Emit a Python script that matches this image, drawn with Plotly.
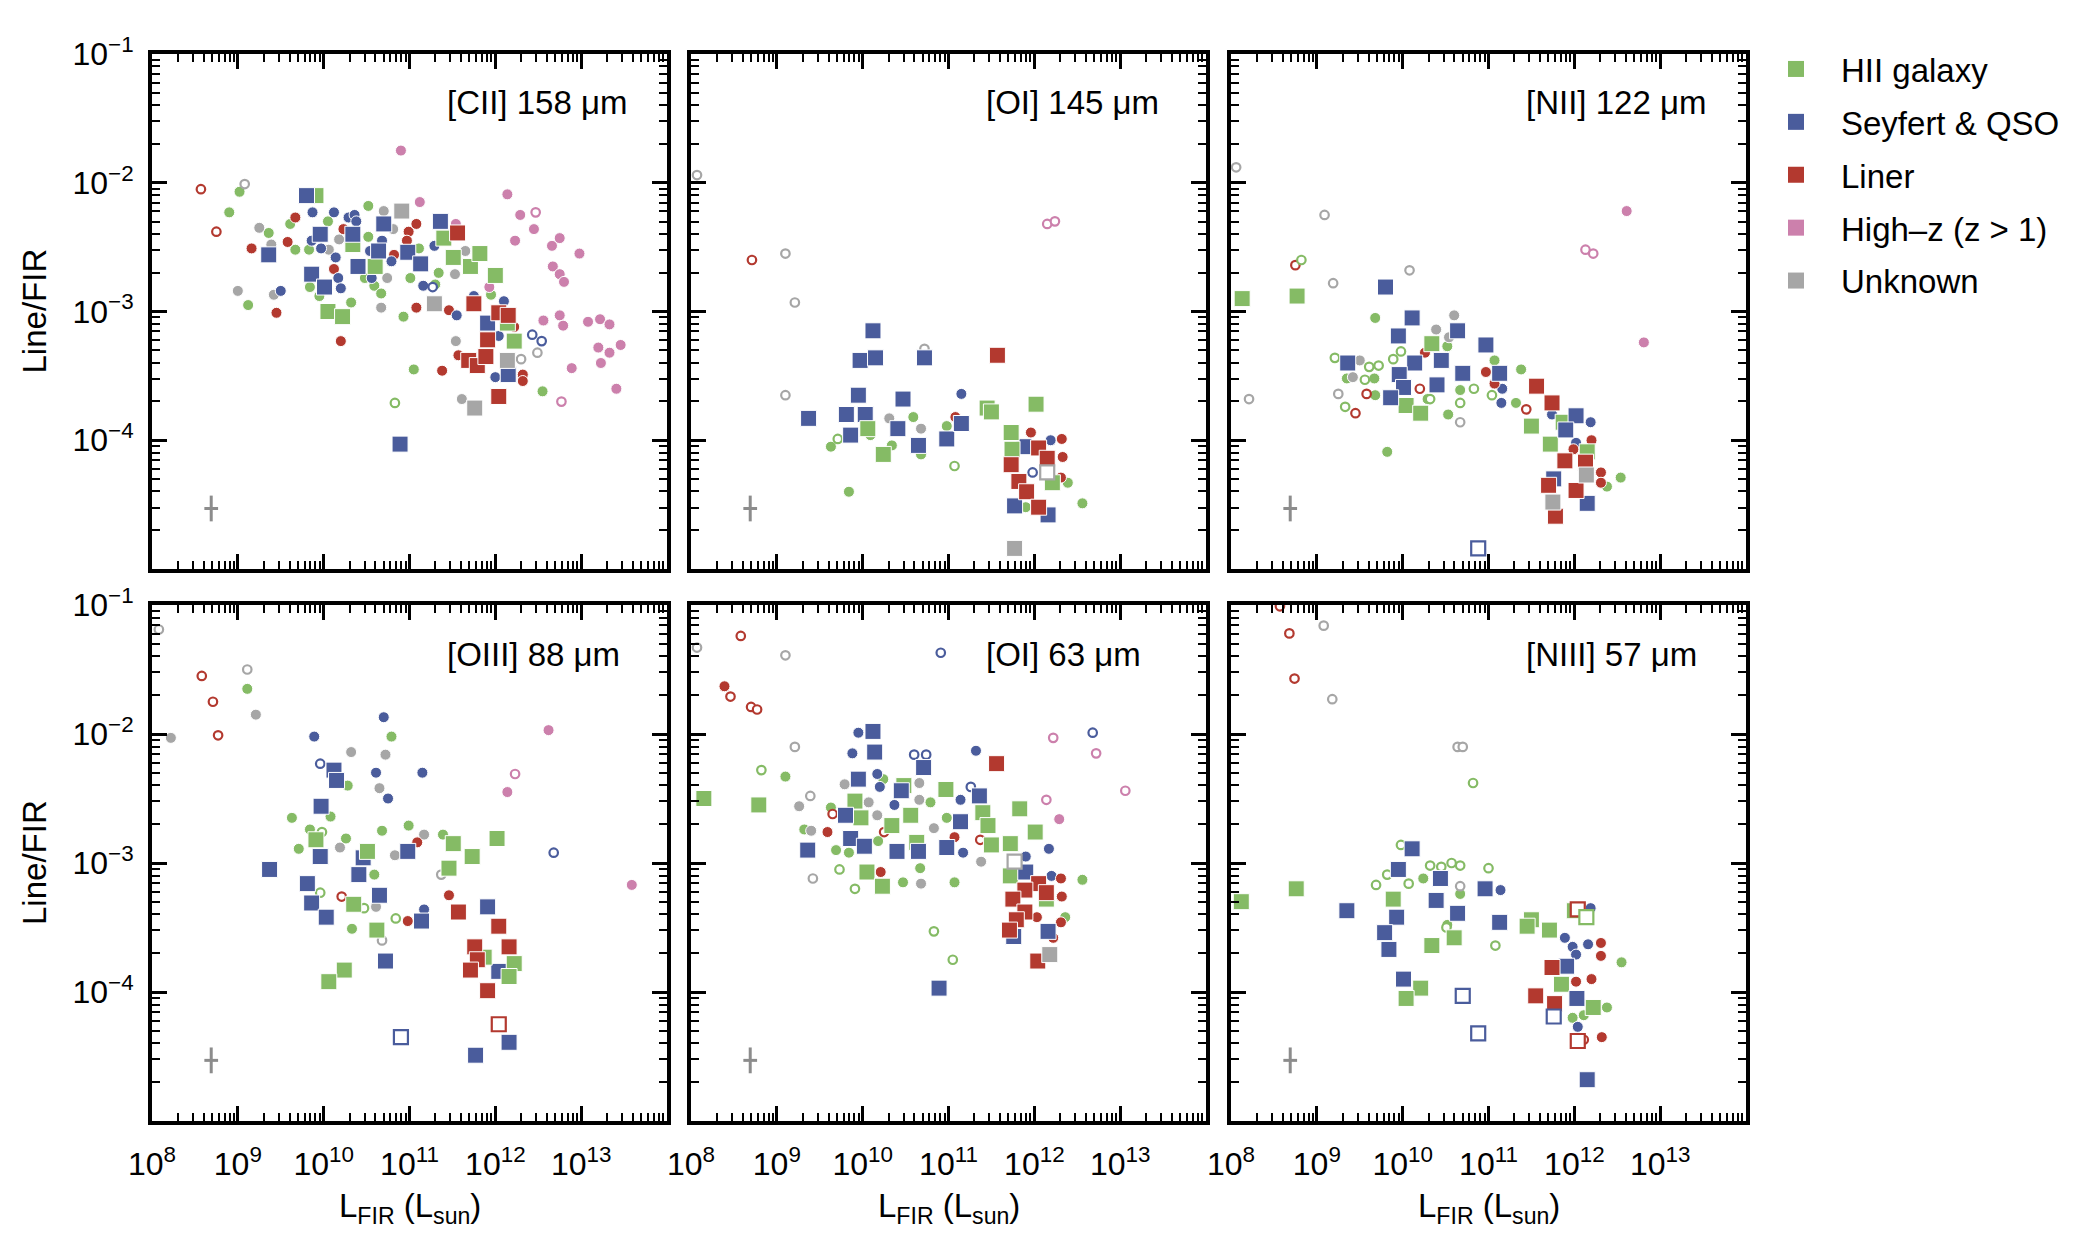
import plotly.graph_objects as go

# log10 L_FIR (L_sun) and log10 Line/FIR, grouped as (class, symbol, points)
# class: H = HII galaxy, S = Seyfert & QSO, L = Liner, Z = high-z, U = unknown
# symbol: o = filled circle, c = open circle, s = filled square, q = open square
CII_158 = [
    ("H", "o", [(9.02, -2.07), (8.90, -2.23), (9.36, -2.39), (9.12, -2.95), (9.61, -2.32), (9.67, -2.52),
                (9.83, -2.52), (10.05, -2.30), (9.84, -2.81), (9.95, -2.88), (10.32, -2.93), (10.52, -2.18),
                (10.52, -2.42), (10.48, -2.74), (10.59, -2.80), (10.67, -2.86), (11.01, -2.74), (11.11, -2.51),
                (10.93, -3.04), (11.30, -2.79), (11.34, -2.70), (11.95, -2.87), (11.05, -3.45), (12.55, -3.62)]),
    ("U", "o", [(9.25, -2.35), (9.00, -2.84), (9.42, -2.87), (9.39, -2.48), (10.06, -2.52), (10.18, -2.44),
                (10.70, -2.22), (10.81, -2.36), (10.74, -2.74), (10.67, -2.97), (11.65, -2.53), (11.53, -2.71),
                (11.54, -3.23), (11.61, -3.68)]),
    ("L", "o", [(9.16, -2.51), (9.45, -3.01), (9.58, -2.46), (9.67, -2.27), (10.12, -2.67), (10.20, -3.23),
                (10.23, -2.36), (10.82, -2.56), (10.99, -2.38), (11.08, -2.32), (10.97, -2.45), (11.08, -2.97),
                (11.46, -2.99), (12.22, -3.12), (11.57, -3.34), (12.32, -3.49), (12.32, -3.54), (11.38, -3.46)]),
    ("S", "o", [(9.50, -2.84), (9.87, -2.23), (10.12, -2.23), (9.86, -2.45), (9.97, -2.51), (10.17, -2.74),
                (10.20, -2.82), (10.14, -2.58), (10.29, -2.27), (10.36, -2.25), (10.38, -2.30), (10.54, -2.53),
                (10.68, -2.45), (10.56, -2.74), (10.79, -2.61), (11.16, -2.80), (11.29, -2.49), (11.55, -3.03),
                (11.75, -2.88), (12.10, -2.92), (12.04, -3.19), (12.00, -3.51)]),
    ("Z", "o", [(10.90, -1.75), (11.12, -2.15), (11.54, -2.32), (11.93, -2.81), (12.14, -2.09), (12.29, -2.25),
                (12.45, -2.36), (12.23, -2.45), (12.75, -2.43), (12.66, -2.49), (12.98, -2.55), (12.67, -2.65),
                (12.75, -2.71), (12.80, -2.77), (12.56, -3.07), (12.75, -3.03), (12.79, -3.11), (13.08, -3.08),
                (13.22, -3.06), (13.33, -3.10), (13.20, -3.28), (13.33, -3.32), (13.46, -3.26), (13.23, -3.40),
                (12.89, -3.44), (13.41, -3.60)]),
    ("L", "c", [(8.57, -2.05), (8.75, -2.38)]),
    ("U", "c", [(9.08, -2.01), (12.49, -3.32), (12.30, -3.37)]),
    ("S", "c", [(11.27, -2.81), (12.43, -3.18), (12.54, -3.23)]),
    ("H", "c", [(10.83, -3.71)]),
    ("Z", "c", [(12.77, -3.70), (12.47, -2.23)]),
    ("H", "s", [(9.91, -2.10), (10.05, -3.00), (10.22, -3.04), (10.34, -2.48), (10.60, -2.65), (11.40, -2.43),
                (11.51, -2.58), (11.71, -2.65), (11.82, -2.55), (12.00, -2.72), (12.14, -3.09), (12.22, -3.23)]),
    ("S", "s", [(9.36, -2.56), (9.80, -2.10), (9.96, -2.40), (9.86, -2.71), (10.01, -2.81), (10.34, -2.40),
                (10.40, -2.65), (10.70, -2.32), (10.64, -2.53), (10.98, -2.54), (11.13, -2.63), (11.36, -2.30),
                (11.91, -3.09), (12.15, -3.49), (10.89, -4.03)]),
    ("L", "s", [(11.56, -2.39), (11.75, -2.94), (12.04, -3.01), (12.15, -3.03), (11.91, -3.22), (11.69, -3.38),
                (11.79, -3.42), (11.89, -3.35), (12.04, -3.66)]),
    ("U", "s", [(10.91, -2.22), (11.29, -2.94), (12.14, -3.38), (11.76, -3.75)]),
]

OI_145 = [
    ("H", "o", [(9.63, -4.05), (10.59, -3.82), (10.34, -4.04), (10.09, -3.96), (9.84, -4.40), (10.98, -3.89),
                (10.68, -4.11), (12.39, -4.33), (12.56, -4.49), (11.90, -4.52)]),
    ("U", "o", [(10.68, -3.91), (10.31, -3.83)]),
    ("S", "o", [(11.15, -3.64), (12.19, -4.00)]),
    ("L", "o", [(11.08, -3.82), (11.96, -3.94), (12.32, -3.99), (12.33, -4.13), (12.31, -4.29)]),
    ("U", "c", [(8.07, -1.94), (9.10, -2.55), (9.21, -2.93), (9.10, -3.65), (10.72, -3.29)]),
    ("L", "c", [(8.71, -2.60)]),
    ("H", "c", [(9.71, -3.99), (11.07, -4.20)]),
    ("S", "c", [(11.98, -4.25)]),
    ("Z", "c", [(12.15, -2.32), (12.24, -2.30)]),
    ("S", "s", [(10.12, -3.15), (9.97, -3.38), (10.15, -3.36), (10.72, -3.36), (9.95, -3.65), (10.47, -3.68),
                (9.37, -3.83), (9.81, -3.80), (10.03, -3.80), (10.41, -3.91), (9.86, -3.96), (10.65, -4.04),
                (10.98, -3.99), (11.15, -3.87), (11.88, -4.05), (11.77, -4.51), (12.16, -4.58)]),
    ("H", "s", [(10.06, -3.91), (10.24, -4.11), (11.45, -3.75), (11.50, -3.78), (12.02, -3.72), (11.73, -3.94),
                (11.74, -4.07), (12.21, -4.33)]),
    ("L", "s", [(11.57, -3.34), (12.05, -4.06), (12.15, -4.14), (11.73, -4.19), (11.82, -4.32), (11.91, -4.40),
                (12.05, -4.52)]),
    ("U", "s", [(11.77, -4.84)]),
    ("U", "q", [(12.15, -4.25)]),
]

NII_122 = [
    ("H", "o", [(9.68, -3.05), (10.52, -3.27), (9.67, -3.52), (9.68, -3.65), (10.67, -3.61), (10.53, -3.80),
                (11.07, -3.38), (11.38, -3.45), (11.32, -3.71), (9.82, -4.09), (12.54, -4.29), (12.38, -4.36),
                (9.35, -3.52), (10.29, -3.68)]),
    ("U", "o", [(9.50, -3.38), (9.42, -3.51), (10.39, -3.14), (10.60, -3.03), (10.54, -3.20)]),
    ("S", "o", [(11.16, -3.60), (11.15, -3.71), (12.19, -3.86), (12.02, -4.02), (11.74, -3.80)]),
    ("L", "o", [(10.97, -3.47), (11.07, -3.56), (12.20, -4.00), (12.31, -4.25), (12.31, -4.33), (11.99, -4.07),
                (10.26, -3.32)]),
    ("Z", "o", [(12.61, -2.22), (12.81, -3.24)]),
    ("U", "c", [(8.06, -1.88), (9.09, -2.25), (9.19, -2.78), (10.08, -2.68), (8.21, -3.68), (9.25, -3.64),
                (10.67, -3.86)]),
    ("L", "c", [(8.75, -2.64), (9.58, -3.64), (9.45, -3.79), (10.20, -3.60), (11.44, -3.76)]),
    ("H", "c", [(8.82, -2.60), (9.21, -3.36), (9.61, -3.43), (9.72, -3.42), (9.56, -3.53), (9.33, -3.74),
                (9.89, -3.37), (9.98, -3.31), (10.32, -3.68), (10.67, -3.71), (10.83, -3.60), (11.04, -3.65)]),
    ("Z", "c", [(12.13, -2.52), (12.22, -2.55)]),
    ("H", "s", [(8.13, -2.90), (8.77, -2.88), (10.34, -3.25), (10.04, -3.73), (10.21, -3.79), (11.50, -3.89),
                (11.72, -4.03), (12.15, -4.09), (11.87, -3.86)]),
    ("S", "s", [(9.80, -2.81), (10.11, -3.05), (9.95, -3.19), (10.64, -3.15), (10.97, -3.26), (9.36, -3.40),
                (10.14, -3.40), (10.45, -3.38), (9.96, -3.49), (10.70, -3.48), (11.13, -3.48), (10.40, -3.57),
                (10.01, -3.59), (9.86, -3.67), (12.02, -3.81), (11.90, -3.92), (12.15, -4.49), (11.76, -4.30)]),
    ("L", "s", [(11.56, -3.58), (11.74, -3.71), (11.89, -4.16), (12.13, -4.17), (11.70, -4.35), (12.02, -4.39),
                (11.78, -4.59)]),
    ("U", "s", [(12.14, -4.27), (11.75, -4.48)]),
    ("S", "q", [(10.88, -4.84)]),
]

OIII_88 = [
    ("H", "o", [(9.11, -1.65), (10.79, -2.02), (9.63, -2.65), (9.71, -2.89), (9.84, -2.74), (10.26, -2.81),
                (10.08, -2.64), (10.28, -2.40), (10.68, -2.75), (10.99, -2.71), (11.39, -2.78), (10.33, -3.51),
                (10.59, -3.09)]),
    ("U", "o", [(9.21, -1.85), (8.22, -2.03), (10.32, -2.14), (10.72, -2.16), (10.65, -2.42), (10.19, -2.88),
                (10.83, -2.94), (11.17, -2.78), (10.61, -3.34)]),
    ("S", "o", [(10.70, -1.87), (9.89, -2.02), (10.61, -2.30), (11.15, -2.30), (10.75, -2.50), (11.17, -3.36)]),
    ("L", "o", [(11.09, -2.84), (11.46, -3.25), (10.98, -3.45)]),
    ("Z", "o", [(12.62, -1.97), (12.14, -2.45), (13.59, -3.17)]),
    ("U", "c", [(8.08, -1.19), (9.11, -1.50), (11.37, -3.09), (10.68, -3.60)]),
    ("L", "c", [(8.58, -1.55), (8.71, -1.75), (8.77, -2.01), (10.21, -3.26)]),
    ("S", "c", [(9.96, -2.23), (12.68, -2.92)]),
    ("H", "c", [(9.98, -2.76), (9.96, -3.23), (10.84, -3.43), (10.47, -3.35)]),
    ("Z", "c", [(12.23, -2.31)]),
    ("S", "s", [(10.12, -2.28), (10.15, -2.36), (9.97, -2.56), (9.37, -3.05), (9.96, -2.95), (10.46, -2.96),
                (10.41, -3.09), (9.81, -3.16), (9.86, -3.31), (10.03, -3.42), (10.65, -3.25), (10.98, -2.91),
                (11.14, -3.45), (11.91, -3.34), (10.72, -3.76), (12.04, -3.84), (12.16, -4.39), (11.77, -4.49)]),
    ("H", "s", [(9.91, -2.82), (10.51, -2.91), (10.35, -3.32), (10.62, -3.52), (11.51, -2.85), (11.73, -2.95),
                (12.02, -2.81), (11.46, -3.04), (10.24, -3.83), (10.06, -3.92), (12.22, -3.78), (12.16, -3.88),
                (11.87, -3.73)]),
    ("L", "s", [(11.57, -3.38), (12.04, -3.49), (12.16, -3.65), (11.76, -3.65), (11.79, -3.75), (11.71, -3.83),
                (11.91, -3.99)]),
    ("L", "q", [(12.04, -4.25)]),
    ("S", "q", [(10.90, -4.35)]),
]

OI_63 = [
    ("H", "o", [(9.10, -2.33), (9.69, -2.90), (9.84, -2.92), (10.18, -2.83), (10.47, -3.15), (10.67, -3.04),
                (11.07, -3.15), (10.98, -2.65), (10.79, -2.53), (10.24, -2.35), (12.56, -3.13), (9.63, -2.57),
                (9.32, -2.74), (12.36, -3.42)]),
    ("U", "o", [(9.79, -2.39), (9.26, -2.56), (9.40, -2.75), (10.07, -2.53), (10.17, -2.63), (10.66, -2.38),
                (10.66, -2.51), (10.83, -2.73), (11.38, -2.99), (10.68, -3.16)]),
    ("S", "o", [(9.95, -1.99), (9.88, -2.15), (10.17, -2.31), (10.20, -2.41), (10.37, -2.55), (11.14, -2.51),
                (11.32, -2.13), (11.17, -2.92), (11.90, -2.95), (12.17, -2.89), (12.20, -3.10)]),
    ("L", "o", [(8.39, -1.63), (9.59, -2.76), (10.21, -3.07), (12.31, -3.12), (12.31, -3.46), (12.03, -3.42),
                (11.07, -2.80), (12.32, -3.26), (12.22, -3.58)]),
    ("Z", "o", [(12.29, -2.66)]),
    ("U", "c", [(8.07, -1.33), (9.10, -1.39), (9.21, -2.10), (9.39, -2.48), (9.42, -3.12)]),
    ("L", "c", [(8.58, -1.24), (8.46, -1.71), (8.70, -1.79), (8.77, -1.81), (9.65, -2.62), (11.37, -2.82),
                (10.25, -2.76)]),
    ("H", "c", [(8.82, -2.28), (9.73, -3.05), (9.91, -3.20), (10.83, -3.53), (11.05, -3.75)]),
    ("S", "c", [(10.91, -1.37), (12.68, -1.99), (10.60, -2.16), (10.74, -2.16), (11.26, -2.41)]),
    ("Z", "c", [(12.22, -2.03), (12.72, -2.15), (13.06, -2.44), (12.14, -2.51)]),
    ("H", "s", [(8.15, -2.50), (8.79, -2.55), (9.91, -2.52), (10.05, -3.07), (10.23, -3.18), (10.34, -2.71),
                (10.48, -2.40), (10.56, -2.63), (10.97, -2.43), (11.40, -2.61), (11.46, -2.71), (11.50, -2.86),
                (11.72, -2.85), (11.83, -2.58), (12.01, -2.76), (9.98, -2.65), (12.14, -3.28), (11.72, -3.10),
                (10.63, -2.84)]),
    ("S", "s", [(10.12, -1.98), (10.14, -2.14), (9.95, -2.35), (10.71, -2.26), (10.45, -2.44), (11.36, -2.48),
                (9.80, -2.63), (11.14, -2.68), (9.86, -2.81), (10.02, -2.87), (9.36, -2.90), (10.40, -2.91),
                (10.65, -2.91), (10.98, -2.88), (11.90, -3.07), (11.76, -3.57), (12.16, -3.53), (10.89, -3.97)]),
    ("L", "s", [(11.56, -2.23), (12.05, -3.16), (11.89, -3.21), (11.75, -3.28), (12.14, -3.23), (11.89, -3.38),
                (11.79, -3.44), (11.71, -3.52), (12.04, -3.76)]),
    ("U", "s", [(12.18, -3.71)]),
    ("U", "q", [(11.77, -2.99)]),
]

NIII_57 = [
    ("H", "o", [(10.24, -3.12), (10.67, -3.24), (10.52, -3.48), (12.55, -3.77), (12.38, -4.12), (11.98, -4.20),
                (12.11, -4.18)]),
    ("S", "o", [(11.14, -3.21), (12.19, -3.35), (11.89, -3.58), (11.98, -3.65), (12.16, -3.63), (12.02, -3.71),
                (12.04, -4.27)]),
    ("L", "o", [(12.31, -3.62), (12.31, -3.72), (12.20, -3.90), (12.02, -3.92), (12.32, -4.35)]),
    ("L", "c", [(8.57, -1.01), (8.68, -1.22), (8.74, -1.57), (12.11, -4.37)]),
    ("U", "c", [(9.08, -1.16), (9.18, -1.73), (10.64, -2.10), (10.70, -2.10), (10.67, -3.18)]),
    ("H", "c", [(10.82, -2.38), (9.98, -2.86), (9.82, -3.09), (9.69, -3.17), (10.07, -3.16), (10.32, -3.02),
                (10.45, -3.03), (10.57, -3.00), (10.67, -3.02), (11.00, -3.04), (11.08, -3.64), (10.51, -3.50)]),
    ("H", "s", [(8.12, -3.30), (8.76, -3.20), (9.89, -3.28), (10.34, -3.64), (10.60, -3.58), (11.50, -3.44),
                (11.45, -3.49), (11.71, -3.52), (11.85, -3.94), (10.21, -3.97), (10.04, -4.05), (12.22, -4.12),
                (12.00, -3.37)]),
    ("S", "s", [(10.11, -2.89), (9.95, -3.05), (10.44, -3.12), (10.96, -3.20), (10.39, -3.29), (9.35, -3.37),
                (9.93, -3.42), (10.64, -3.39), (11.13, -3.46), (9.79, -3.54), (9.84, -3.67), (10.01, -3.90),
                (11.91, -3.80), (12.03, -4.05), (12.15, -4.68)]),
    ("L", "s", [(11.74, -3.81), (11.55, -4.03), (11.77, -4.09)]),
    ("L", "q", [(12.04, -3.36), (12.04, -4.38)]),
    ("H", "q", [(12.14, -3.42)]),
    ("S", "q", [(10.70, -4.03), (10.88, -4.32), (11.76, -4.19)]),
]

PANEL_LABELS = ["[CII] 158 μm", "[OI] 145 μm", "[NII] 122 μm",
                "[OIII] 88 μm", "[OI] 63 μm", "[NIII] 57 μm"]
PANEL_DATA = [CII_158, OI_145, NII_122, OIII_88, OI_63, NIII_57]

CLASSES = ["H", "S", "L", "Z", "U"]
CLASS_NAMES = ["HII galaxy", "Seyfert & QSO", "Liner", "High–z (z > 1)", "Unknown"]
CLASS_COLORS = ["#85BB65", "#4A5C9C", "#B3392F", "#CC80AC", "#A6A6A6"]

X_DECADES = [8, 9, 10, 11, 12, 13]
Y_DECADES = [-4, -3, -2, -1]

# typical uncertainty cross drawn in each panel (log10 units)
ERR_POS = (8.69, -4.53)
ERR_DEX = (0.08, 0.10)

COLOR = dict(zip(CLASSES, CLASS_COLORS))
W, H = 2100, 1241
COL_PX = [(144, 659), (683, 1198), (1223, 1738)]
ROW_PX = [(46, 561), (597, 1113)]
FONT = "Liberation Sans, Arial, sans-serif"


def marker_for(sym, color):
    if sym == "o":
        return dict(symbol="circle", size=11, color=color, line=dict(color="white", width=1))
    if sym == "s":
        return dict(symbol="square", size=16, color=color, line=dict(color="white", width=1))
    if sym == "c":
        return dict(symbol="circle", size=8.5, color="white", line=dict(color=color, width=2.2))
    return dict(symbol="square", size=14, color="white", line=dict(color=color, width=2.2))


fig = go.Figure()

frame = dict(
    type="log", showline=True, linecolor="black", linewidth=4, mirror="allticks",
    ticks="inside", ticklen=15, tickwidth=3, tickcolor="black", automargin=False,
    showgrid=False, zeroline=False, tickmode="array",
    minor=dict(ticks="inside", ticklen=8, tickwidth=2, tickcolor="black", dtick="D1", showgrid=False),
    tickfont=dict(size=32, color="black", family=FONT),
)

annotations = []
for i, groups in enumerate(PANEL_DATA):
    r, c = divmod(i, 3)
    n = "" if i == 0 else str(i + 1)
    for sym in ["o", "c", "s", "q"]:
        for cls, s, pts in groups:
            if s != sym:
                continue
            fig.add_trace(go.Scatter(
                x=[10 ** p[0] for p in pts], y=[10 ** p[1] for p in pts],
                xaxis="x" + n, yaxis="y" + n, mode="markers",
                marker=marker_for(sym, COLOR[cls]), showlegend=False, hoverinfo="skip",
            ))

    # error cross
    ex, ey = 10 ** ERR_POS[0], 10 ** ERR_POS[1]
    fig.add_trace(go.Scatter(
        x=[ex], y=[ey], xaxis="x" + n, yaxis="y" + n, mode="markers",
        marker=dict(size=1, color="rgba(0,0,0,0)"), showlegend=False, hoverinfo="skip",
        error_x=dict(type="data", symmetric=False, array=[10 ** (ERR_POS[0] + ERR_DEX[0]) - ex],
                     arrayminus=[ex - 10 ** (ERR_POS[0] - ERR_DEX[0])], color="#8C8C8C", thickness=3, width=0),
        error_y=dict(type="data", symmetric=False, array=[10 ** (ERR_POS[1] + ERR_DEX[1]) - ey],
                     arrayminus=[ey - 10 ** (ERR_POS[1] - ERR_DEX[1])], color="#8C8C8C", thickness=3, width=0),
    ))

    x0, x1 = COL_PX[c]
    y0, y1 = ROW_PX[r]
    fig.layout["xaxis" + n] = dict(
        frame, domain=[x0 / W, x1 / W], anchor="y" + n, range=[8, 14],
        tickvals=[10 ** k for k in X_DECADES], ticktext=["10<sup>%d</sup>" % k for k in X_DECADES],
        showticklabels=(r == 1), ticklabelstandoff=12,
    )
    fig.layout["yaxis" + n] = dict(
        frame, domain=[1 - y1 / H, 1 - y0 / H], anchor="x" + n, range=[-5, -1],
        tickvals=[10 ** k for k in Y_DECADES], ticktext=["10<sup>−%d</sup>" % -k for k in Y_DECADES],
        showticklabels=(c == 0), ticklabelstandoff=8,
    )

    annotations.append(dict(
        text=PANEL_LABELS[i], xref="x%s domain" % n, yref="y%s domain" % n,
        x=0.569, y=0.905, xanchor="left", yanchor="middle", showarrow=False,
        font=dict(size=33, color="black", family=FONT),
    ))
    if c == 0:
        annotations.append(dict(
            text="Line/FIR", xref="paper", yref="paper", x=26 / W, y=1 - (y0 + y1) / 2 / H,
            xanchor="center", yanchor="middle", textangle=-90, showarrow=False,
            font=dict(size=33, color="black", family=FONT),
        ))
    if r == 1:
        annotations.append(dict(
            text="L<sub>FIR</sub> (L<sub>sun</sub>)", xref="paper", yref="paper",
            x=(x0 + x1) / 2 / W, y=1 - 1200 / H, xanchor="center", yanchor="middle",
            showarrow=False, font=dict(size=33, color="black", family=FONT),
        ))

# legend entries
for cls, name, col in zip(CLASSES, CLASS_NAMES, CLASS_COLORS):
    fig.add_trace(go.Scatter(
        x=[None], y=[None], mode="markers", name=name, legendgroup=cls,
        marker=dict(symbol="square", size=18, color=col),
    ))

fig.update_layout(
    width=W, height=H, margin=dict(l=0, r=0, t=0, b=0),
    plot_bgcolor="white", paper_bgcolor="white",
    font=dict(family=FONT, size=32, color="black"),
    annotations=annotations,
    legend=dict(x=1743 / W, y=1 - 33 / H, xanchor="left", yanchor="top",
                font=dict(size=33, color="black", family=FONT), itemwidth=80,
                tracegroupgap=7, bgcolor="rgba(0,0,0,0)"),
)

fig.write_html("out.html")
